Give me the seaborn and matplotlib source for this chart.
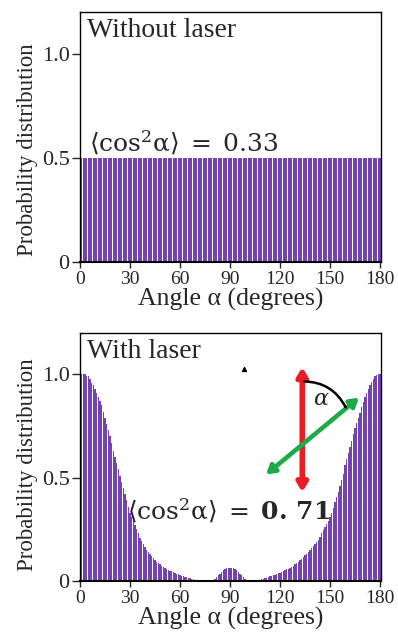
import matplotlib
matplotlib.use("Agg")
import matplotlib.pyplot as plt
import seaborn as sns
import pandas as pd

# angle grid (degrees), one bar per degree
angles = list(range(0, 181))

# without laser: isotropic, flat at 0.5
without_laser = [0.5] * len(angles)

# with laser, 1 degree steps
with_laser = [
    1.00, 1.00, 1.00, 1.00, 0.99,   # 0-4
    0.99, 0.98, 0.96, 0.95, 0.93,   # 5-9
    0.91, 0.89, 0.87, 0.85, 0.82,   # 10-14
    0.79, 0.76, 0.73, 0.70, 0.67,   # 15-19
    0.63, 0.60, 0.57, 0.54, 0.51,   # 20-24
    0.48, 0.45, 0.42, 0.39, 0.36,   # 25-29
    0.33, 0.31, 0.29, 0.27, 0.25,   # 30-34
    0.23, 0.21, 0.195, 0.18, 0.165,  # 35-39
    0.15, 0.14, 0.13, 0.12, 0.11,   # 40-44
    0.10, 0.093, 0.086, 0.08, 0.075,  # 45-49
    0.07, 0.065, 0.06, 0.055, 0.05,   # 50-54
    0.046, 0.042, 0.038, 0.035, 0.032,  # 55-59
    0.029, 0.026, 0.023, 0.02, 0.018,   # 60-64
    0.015, 0.013, 0.011, 0.009, 0.007,  # 65-69
    0.005, 0.004, 0.002, 0.001, 0.0,    # 70-74
    0.0, 0.0, 0.0, 0.0, 0.002,          # 75-79
    0.006, 0.012, 0.02, 0.028, 0.036,   # 80-84
    0.044, 0.051, 0.057, 0.061, 0.064,  # 85-89
    0.065, 0.064, 0.061, 0.057, 0.051,  # 90-94
    0.044, 0.036, 0.028, 0.02, 0.012,   # 95-99
    0.006, 0.002, 0.0, 0.0, 0.0,        # 100-104
    0.0, 0.001, 0.003, 0.005, 0.008,    # 105-109
    0.01, 0.013, 0.016, 0.019, 0.022,   # 110-114
    0.025, 0.028, 0.031, 0.034, 0.037,  # 115-119
    0.04, 0.044, 0.048, 0.052, 0.056,   # 120-124
    0.06, 0.065, 0.07, 0.075, 0.08,     # 125-129
    0.085, 0.092, 0.10, 0.108, 0.116,   # 130-134
    0.124, 0.132, 0.14, 0.15, 0.16,     # 135-139
    0.17, 0.18, 0.19, 0.20, 0.215,      # 140-144
    0.23, 0.245, 0.26, 0.275, 0.29,     # 145-149
    0.31, 0.33, 0.355, 0.38, 0.405,     # 150-154
    0.43, 0.46, 0.49, 0.52, 0.56,       # 155-159
    0.59, 0.62, 0.65, 0.68, 0.71,       # 160-164
    0.74, 0.765, 0.79, 0.815, 0.84,     # 165-169
    0.865, 0.89, 0.91, 0.93, 0.95,      # 170-174
    0.965, 0.98, 0.99, 0.995, 1.00,     # 175-179
    1.00,                               # 180
]

x_ticks = [0, 30, 60, 90, 120, 150, 180]
y_ticks = [0, 0.5, 1.0]
y_ticklabels = ["0", "0.5", "1.0"]

# inset sketch in the lower panel (data coords: angle, probability)
red_arrow = [(133.4, 0.43), (133.4, 1.035)]
green_arrow = [(111.6, 0.515), (167.5, 0.888)]
arc_ends = [(134.5, 0.966), (159.5, 0.84)]
stray_mark = [(98.7, 1.024)]

BAR_COLOR = "#7444ae"

sns.set_style("ticks")
plt.rcParams["font.family"] = ["Liberation Serif", "DejaVu Serif"]
plt.rcParams["mathtext.fontset"] = "dejavuserif"


def draw_panel(ax, values, title, note, label_y):
    df = pd.DataFrame({"angle": angles, "p": values})
    sns.barplot(data=df, x="angle", y="p", native_scale=True, color=BAR_COLOR,
                saturation=1, width=0.82, linewidth=0, errorbar=None, ax=ax)
    ax.set_xlim(0, 180.6)
    ax.set_ylim(0, 1.2)
    ax.set_xticks(x_ticks)
    ax.set_xticklabels([str(t) for t in x_ticks], fontsize=14)
    ax.set_yticks(y_ticks)
    ax.set_yticklabels(y_ticklabels, fontsize=16)
    ax.tick_params(axis="x", direction="out", length=4, width=1, pad=2.5)
    ax.tick_params(axis="y", direction="out", length=6, width=1, pad=1.5)
    ax.set_xlabel("Angle α (degrees)", fontsize=18.5, labelpad=0)
    ax.set_ylabel("Probability distribution", fontsize=16.5, labelpad=3)
    ax.yaxis.label.set_y(label_y)
    for s in ax.spines.values():
        s.set_visible(True)
        s.set_color("black")
        s.set_linewidth(1.0)
    ax.spines["bottom"].set_linewidth(1.5)
    ax.text(0.022, 0.975, title, transform=ax.transAxes, ha="left", va="top",
            fontsize=20)
    x, y, txt = note
    ax.text(x, y, txt, ha="left", va="baseline", fontsize=18)


fig = plt.figure(figsize=(3.98, 6.34), dpi=100)
ax1 = fig.add_axes([0.201, 0.5868, 0.756, 0.394])
ax2 = fig.add_axes([0.201, 0.0836, 0.756, 0.391])

draw_panel(ax1, without_laser, "Without laser",
           (5.5, 0.53,
            r"$\langle\mathrm{cos}^2\mathrm{\alpha}\rangle\;=\;0.33$"),
           0.45)
draw_panel(ax2, with_laser, "With laser",
           (28.5, 0.295,
            r"$\langle\mathrm{cos}^2\mathrm{\alpha}\rangle\;=\;\mathbf{0.\,71}$"),
           0.47)

# polarisation sketch
ax2.annotate("", xy=red_arrow[1], xytext=red_arrow[0],
             arrowprops=dict(arrowstyle="<|-|>,head_length=0.5,head_width=0.3",
                             color="#ec1c24", lw=4.0, shrinkA=0, shrinkB=0),
             zorder=5)
ax2.annotate("", xy=green_arrow[1], xytext=green_arrow[0],
             arrowprops=dict(arrowstyle="<|-|>,head_length=0.5,head_width=0.3",
                             color="#1faa4a", lw=3.3, shrinkA=0, shrinkB=0),
             zorder=6)
ax2.annotate("", xy=arc_ends[1], xytext=arc_ends[0],
             arrowprops=dict(arrowstyle="-", color="black", lw=1.8,
                             connectionstyle="arc3,rad=-0.3",
                             shrinkA=0, shrinkB=0),
             zorder=6)
ax2.text(145, 0.875, r"$\alpha$", ha="center", va="center", fontsize=16,
         zorder=7)
ax2.scatter([p[0] for p in stray_mark], [p[1] for p in stray_mark],
            marker="^", s=8, color="black", zorder=7)

fig.savefig("out.png", dpi=100)
